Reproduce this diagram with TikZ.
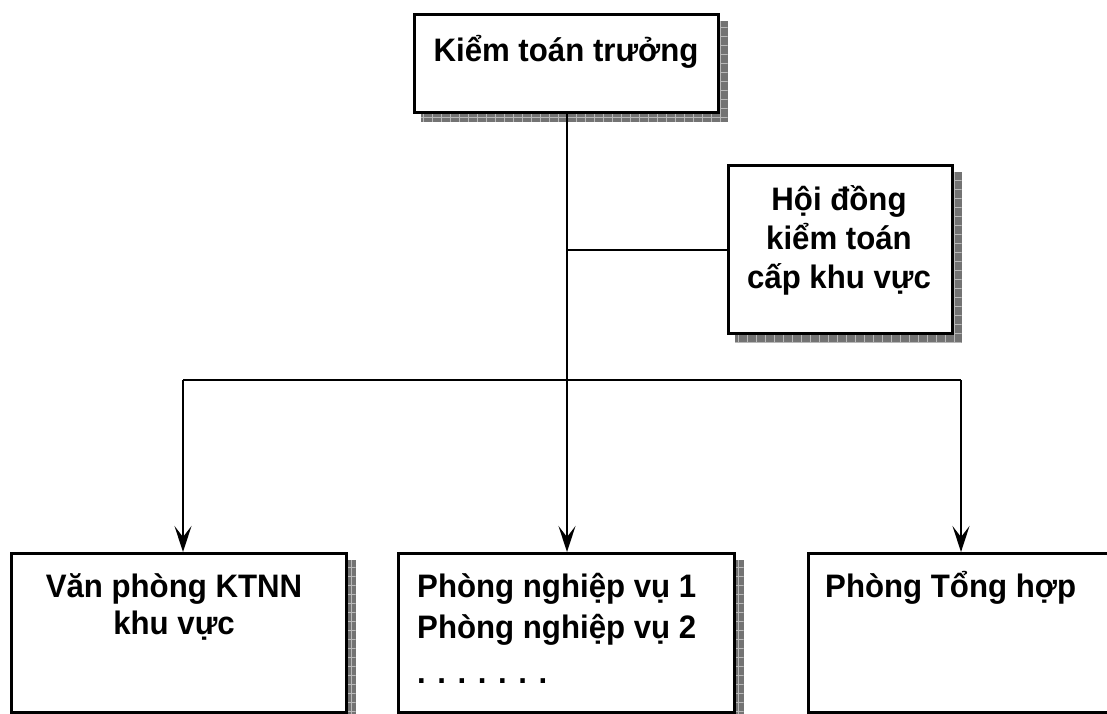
\documentclass[tikz,border=0pt]{standalone}
\usepackage{fontspec}
\setmainfont{Liberation Sans}[FakeStretch=0.96]
\usetikzlibrary{arrows.meta,calc,backgrounds}

\tikzset{
  orgbox/.style={draw=black, line width=2.6pt, fill=white, rectangle,
    inner sep=0pt, anchor=north west},
  lbl/.style={inner sep=0pt, font=\bfseries\fontsize{32.5}{38}\selectfont},
  conn/.style={draw=black, line width=2.2pt},
  arr/.style={conn, -{Stealth[length=26pt, width=17pt, inset=11pt]}},
  shadowfill/.style={fill=black!55},
  shadowgrid/.style={draw=black!28, line width=0.8pt, step=9pt},
}

% drop shadow with a fine grid texture behind a box node
\newcommand{\orgshadow}[1]{%
  \fill[shadowfill] ($(#1.south west)+(8,8)$) rectangle ($(#1.north east)+(8,8)$);
  \begin{scope}
    \clip ($(#1.south west)+(8,8)$) rectangle ($(#1.north east)+(8,8)$);
    \draw[shadowgrid] ($(#1.south west)+(8,8)$) grid ($(#1.north east)+(8,8)$);
  \end{scope}}

\begin{document}
\begin{tikzpicture}[x=1pt, y=-1pt]
  \clip (0,0) rectangle (1107,713);

  % boxes
  \node[orgbox, minimum width=304pt, minimum height=98pt] (chief) at (413,13) {};
  \node[orgbox, minimum width=224pt, minimum height=168pt] (council) at (727,164) {};
  \node[orgbox, minimum width=335pt, minimum height=159pt] (office) at (10,552) {};
  \node[orgbox, minimum width=336pt, minimum height=159pt] (depts) at (397,552) {};
  \node[orgbox, minimum width=330pt, minimum height=159pt] (general) at (807,552) {};

  % labels
  \node[lbl, anchor=base] (tchief) at (566,61) {Kiểm toán trưởng};
  \node[lbl, anchor=base] (tc1) at (839,210) {Hội đồng};
  \node[lbl, anchor=base] (tc2) at (839,249) {kiểm toán};
  \node[lbl, anchor=base] (tc3) at (839,288) {cấp khu vực};
  \node[lbl, anchor=base] (to1) at (174,597) {Văn phòng KTNN};
  \node[lbl, anchor=base] (to2) at (174,634) {khu vực};
  \node[lbl, anchor=base west] (td1) at (417,597) {Phòng nghiệp vụ 1};
  \node[lbl, anchor=base west] (td2) at (417,638) {Phòng nghiệp vụ 2};
  \node[lbl, anchor=base west] (td3) at (417,683) {. . . . . . .};
  \node[lbl, anchor=base west] (tg1) at (825,597) {Phòng Tổng hợp};

  % page and shadows behind everything
  \begin{scope}[on background layer]
    \fill[white] (0,0) rectangle (1107,713);
    \orgshadow{chief}
    \orgshadow{council}
    \orgshadow{office}
    \orgshadow{depts}
    \orgshadow{general}
  \end{scope}

  % junction points
  \coordinate (jl) at (183,380);
  \coordinate (jm) at (567,380);
  \coordinate (jr) at (961,380);
  \coordinate (jc) at (567,250);

  % connectors
  \draw[conn] (chief.south -| jm) -- (jm);
  \draw[conn] (jc) -- (jc -| council.west);
  \draw[conn] (jl) -- (jr);
  \draw[arr] (jl) -- (jl |- office.north);
  \draw[arr] (jm) -- (jm |- depts.north);
  \draw[arr] (jr) -- (jr |- general.north);
\end{tikzpicture}
\end{document}
